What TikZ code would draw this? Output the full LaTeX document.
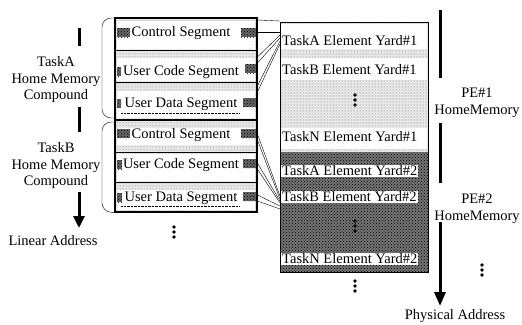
\documentclass[tikz,border=0pt]{standalone}
\usepackage{fontspec}
\setmainfont{Liberation Serif}
\usetikzlibrary{arrows.meta,patterns}

\begin{document}
\begin{tikzpicture}[x=1pt,y=-1pt,
    lbl/.style={font=\fontsize{14.5}{16.5}\selectfont, inner sep=0pt},
    yd/.style={lbl, anchor=west, fill=white, inner sep=1pt},
    stip/.style={fill=black!9, postaction={pattern=dots, pattern color=black!55}},
    dark/.style={fill=black!55, postaction={pattern=crosshatch dots, pattern color=black}},
    blob/.style={fill=black!60, postaction={pattern=crosshatch dots, pattern color=black}},
    bar/.style={line width=3pt},
    tridots/.pic={\foreach \k in {-5,0,5} \fill (0,\k) circle (1.8);}]
  \useasboundingbox (0,0) rectangle (522,324);

  % the two columns
  \path (115,18) node[anchor=north west, minimum width=142pt, minimum height=194pt, inner sep=0pt] (home) {};
  \path (280,22) node[anchor=north west, minimum width=148pt, minimum height=250pt, inner sep=0pt] (yard) {};

  % home memory compounds, left
  \fill[stip] (home.north west) rectangle (home.south east);
  \foreach \ya/\yb in {21/49, 58/81, 91/118, 128/145, 154/181, 190/210}
    \fill[white] (117,\ya) rectangle (255,\yb);
  \foreach \x/\y/\w in {117/28/13, 117/67/4, 117/99/4, 117/129/13, 117/160/5, 117/193/5,
                        241/28/15, 245/64/11, 243/98/13, 241/129/15, 243/159/13, 243/192/13}
    \fill[blob] (\x,\y) rectangle ++(\w,9);
  \foreach \y in {50,82,152,182}
    \draw[thick] (home.west |- 0,\y) -- (home.east |- 0,\y);
  \draw[line width=2pt] (home.west |- 0,120) -- (home.east |- 0,120);
  \draw[densely dotted] (121,113) -- (239,113);
  \draw[densely dotted] (121,206) -- (239,206);

  \node[lbl] (ctlA) at (181,33) {Control Segment};
  \node[lbl] (codeA) at (181,72) {User Code Segment};
  \node[lbl] (dataA) at (181,104) {User Data Segment};
  \node[lbl] (ctlB) at (181,135) {Control Segment};
  \node[lbl] (codeB) at (181,165) {User Code Segment};
  \node[lbl] (dataB) at (181,198) {User Data Segment};
  \draw[line width=2pt] (home.north west) rectangle (home.south east);
  \pic at (174,232) {tridots};

  % element yards, right
  \fill[stip] (yard.north west) rectangle (yard.east |- 0,152);
  \fill[dark] (yard.west |- 0,152) rectangle (yard.south east);
  \foreach \ya/\yb in {24/49, 58/80, 128/149}
    \fill[white] (281,\ya) rectangle (427,\yb);
  \node[lbl, anchor=west] (yardA1) at (282,41) {TaskA Element Yard\#1};
  \node[lbl, anchor=west] (yardB1) at (282,70) {TaskB Element Yard\#1};
  \node[lbl, anchor=west] (yardN1) at (282,137) {TaskN Element Yard\#1};
  \node[yd] (yardA2) at (281,171) {TaskA Element Yard\#2};
  \node[yd] (yardB2) at (281,197) {TaskB Element Yard\#2};
  \node[yd] (yardN2) at (281,259) {TaskN Element Yard\#2};
  \pic at (355,100) {tridots};
  \pic at (355,226) {tridots};
  \draw[thick] (yard.north west) rectangle (yard.south east);
  \pic at (355,286) {tridots};

  % segment to yard mapping
  \foreach \ya/\yb in {20/21, 32/32, 57/35, 63/38, 86/41, 92/44,
                       134/196, 140/199, 163/201, 169/203, 195/206, 201/209}
    \draw (home.east |- 0,\ya) -- (yard.west |- 0,\yb);

  % compound brackets
  \draw[rounded corners=9pt] (home.north west) -- (102,18) -- (102,118) -- (home.west |- 0,118);
  \draw[rounded corners=9pt] (home.west |- 0,122) -- (102,122) -- (102,212) -- (home.south west);

  % linear address side
  \node[lbl, align=center] (taskA) at (56,80) {TaskA\\Home Memory\\Compound};
  \node[lbl, align=center] (taskB) at (56,166) {TaskB\\Home Memory\\Compound};
  \draw[bar] (79,28) -- (79,46);
  \draw[bar] (79,107) -- (79,132);
  \draw[bar, -{Triangle[length=12pt, width=11pt]}] (79,192) -- (79,228);
  \node[lbl] (linaddr) at (53,241) {Linear Address};

  % physical address side
  \draw[bar] (440,10) -- (440,78);
  \draw[bar] (440,123) -- (440,183);
  \draw[bar, -{Triangle[length=14pt, width=11pt]}] (440,222) -- (440,306);
  \node[lbl, align=center] (pe1) at (477,103) {PE\#1\\HomeMemory};
  \node[lbl, align=center] (pe2) at (477,209) {PE\#2\\HomeMemory};
  \pic at (482,270) {tridots};
  \node[lbl] (physaddr) at (455,316) {Physical Address};
\end{tikzpicture}
\end{document}
